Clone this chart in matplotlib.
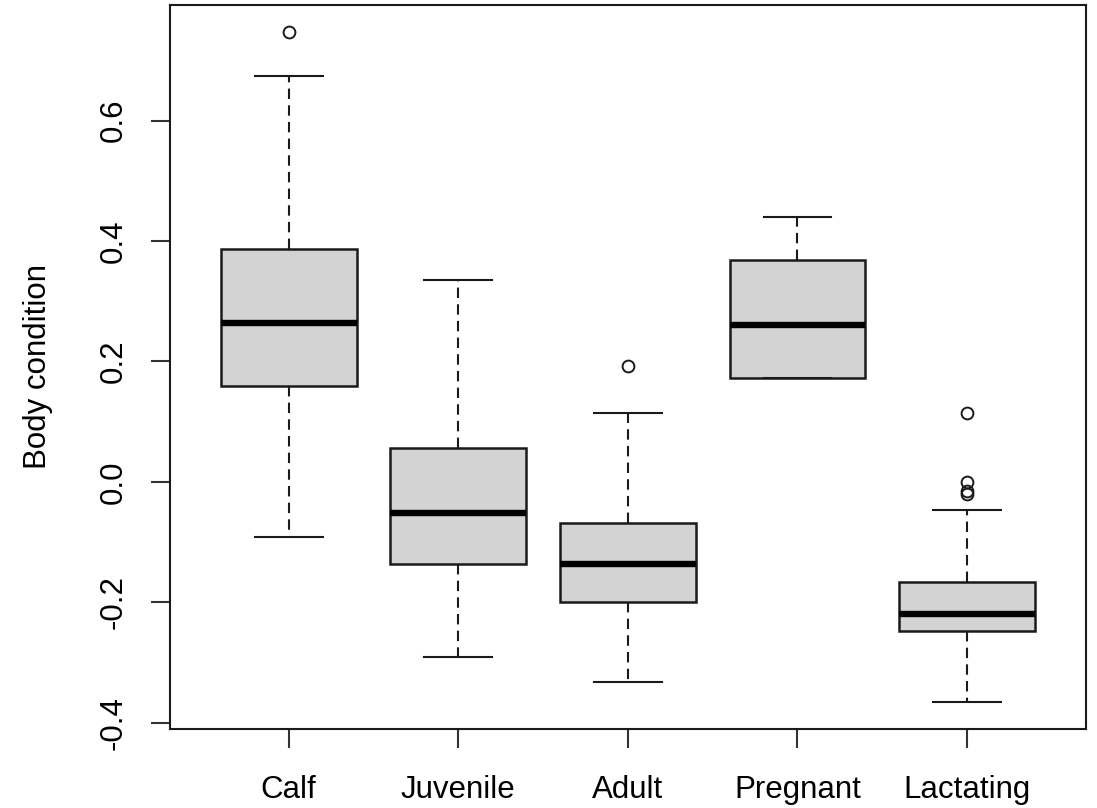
import matplotlib
matplotlib.use("Agg")
import matplotlib.pyplot as plt

# values (R style boxplot)
groups = ["Calf", "Juvenile", "Adult", "Pregnant", "Lactating"]
q1 = [0.159, -0.136, -0.200, 0.173, -0.247]
medians = [0.264, -0.052, -0.136, 0.261, -0.220]
q3 = [0.386, 0.057, -0.068, 0.369, -0.166]
whisker_lo = [-0.092, -0.291, -0.332, 0.173, -0.366]
whisker_hi = [0.674, 0.335, 0.115, 0.440, -0.047]
outliers = [[0.748], [], [0.193], [], [0.115, 0.000, -0.015, -0.021]]
y_ticks = [-0.4, -0.2, 0.0, 0.2, 0.4, 0.6]

plt.rcParams['font.family'] = ['Liberation Sans', 'DejaVu Sans']

stats = []
for i, name in enumerate(groups):
    stats.append({
        'label': name,
        'q1': q1[i],
        'med': medians[i],
        'q3': q3[i],
        'whislo': whisker_lo[i],
        'whishi': whisker_hi[i],
        'fliers': outliers[i],
    })

fig = plt.figure(figsize=(10.97, 8.08), dpi=100)
ax = fig.add_axes([0.155, 0.0978, 0.8347, 0.8964])

ax.bxp(stats, positions=range(1, len(groups) + 1), widths=0.8,
       patch_artist=True, showfliers=True,
       boxprops=dict(facecolor='#D3D3D3', edgecolor='#1a1a1a', linewidth=1.8),
       medianprops=dict(color='black', linewidth=4.6, solid_capstyle='butt'),
       whiskerprops=dict(color='#1a1a1a', linewidth=1.5, linestyle=(0, (5, 3))),
       capprops=dict(color='#1a1a1a', linewidth=1.5),
       capwidths=0.4,
       flierprops=dict(marker='o', markersize=8.5, markerfacecolor='none',
                       markeredgecolor='#1a1a1a', markeredgewidth=1.4))

n = len(groups)
ax.set_xlim(0.3, n + 0.7)
lo = min(whisker_lo)
hi = max(max(o) if o else whisker_hi[i] for i, o in enumerate(outliers))
pad = (hi - lo) * 0.04
ax.set_ylim(lo - pad, hi + pad)

ax.set_yticks(y_ticks)
ax.set_yticklabels(['%.1f' % v for v in y_ticks], rotation=90, va='center')
ax.set_xticks(range(1, n + 1))
ax.set_xticklabels(groups)
ax.tick_params(axis='both', labelsize=22.5, length=14, width=1.5, color='#333333')
ax.tick_params(axis='y', pad=16)
ax.tick_params(axis='x', pad=19)
for sp in ax.spines.values():
    sp.set_linewidth(1.5)
    sp.set_color('#1a1a1a')

ax.set_ylabel('Body condition', fontsize=22.5, labelpad=33)

fig.savefig('out.png', dpi=100)
